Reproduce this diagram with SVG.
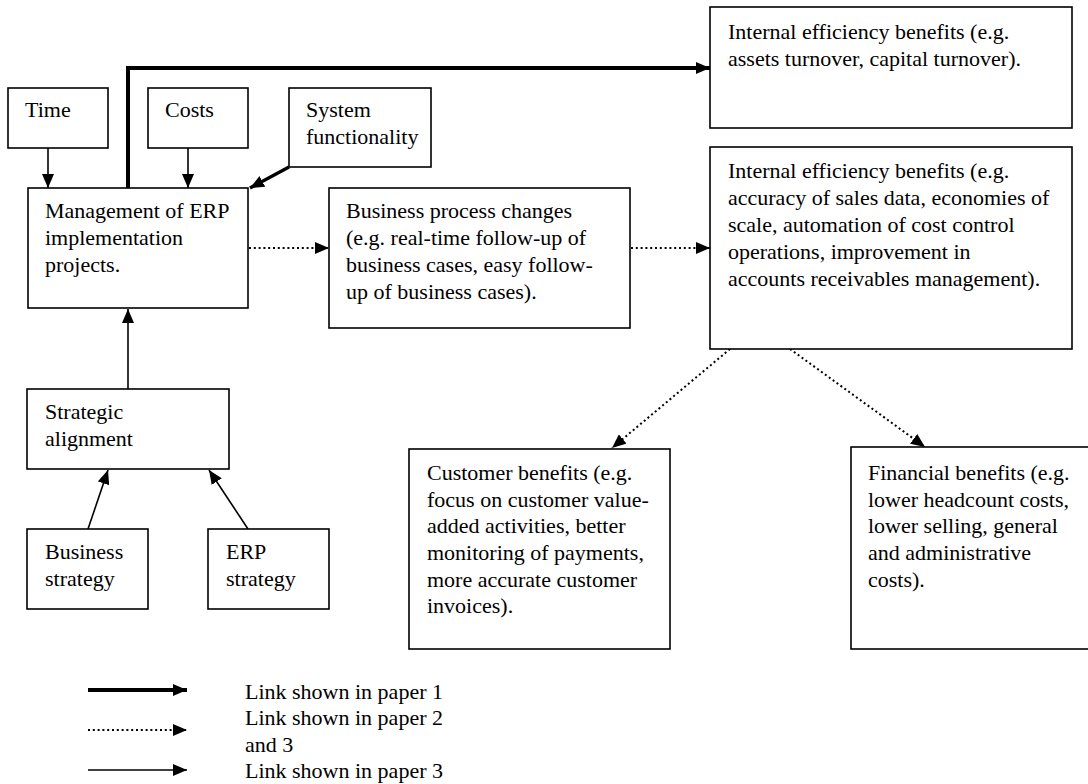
<svg xmlns="http://www.w3.org/2000/svg" width="1088" height="784" viewBox="0 0 1088 784">
  <style>
    .box { fill: #ffffff; stroke: #000000; stroke-width: 1.6; }
    .lbl { font-family: "Liberation Serif", "Times New Roman", serif; font-size: 22px; fill: #000000; }
    .thin { fill: none; stroke: #000000; stroke-width: 1.6; }
    .thick { fill: none; stroke: #000000; stroke-width: 4; }
    .dot { fill: none; stroke: #000000; stroke-width: 2; stroke-dasharray: 2 2.8; }
  </style>
  <defs>
    <marker id="head" markerUnits="userSpaceOnUse" markerWidth="14" markerHeight="12" refX="14" refY="6" orient="auto">
      <path d="M0,0 L14,6 L0,12 z" fill="#000000"/>
    </marker>
  </defs>
  <rect width="1088" height="784" fill="#ffffff"/>

  <!-- connectors -->
  <g id="connectors">
    <line class="thin" x1="48" y1="148" x2="48" y2="188" marker-end="url(#head)"/>
    <line class="thin" x1="188" y1="148" x2="188" y2="188" marker-end="url(#head)"/>
    <line class="thick" style="stroke-width:3.4" x1="289" y1="167" x2="250" y2="188" marker-end="url(#head)"/>
    <path class="thick" d="M128,188 V68 H710" marker-end="url(#head)"/>
    <line class="dot" x1="249" y1="248" x2="329" y2="248" marker-end="url(#head)"/>
    <line class="dot" x1="631" y1="248" x2="710" y2="248" marker-end="url(#head)"/>
    <line class="dot" x1="730" y1="349" x2="612" y2="448" marker-end="url(#head)"/>
    <line class="dot" x1="790" y1="349" x2="925" y2="447" marker-end="url(#head)"/>
    <line class="thin" x1="128" y1="389" x2="128" y2="309" marker-end="url(#head)"/>
    <line class="thin" x1="88" y1="529" x2="108" y2="470" marker-end="url(#head)"/>
    <line class="thin" x1="248" y1="529" x2="209" y2="470" marker-end="url(#head)"/>
  </g>

  <g id="time">
    <rect class="box" x="8" y="88" width="100" height="60"/>
    <text class="lbl" x="25" y="117">Time</text>
  </g>
  <g id="costs">
    <rect class="box" x="148" y="88" width="100" height="60"/>
    <text class="lbl" x="165" y="117">Costs</text>
  </g>
  <g id="system-functionality">
    <rect class="box" x="289" y="88" width="142" height="79"/>
    <text class="lbl" x="306" y="117">System</text>
    <text class="lbl" x="306" y="144">functionality</text>
  </g>
  <g id="management">
    <rect class="box" x="28" y="188" width="220" height="120"/>
    <text class="lbl" x="45" y="218">Management of ERP</text>
    <text class="lbl" x="45" y="245">implementation</text>
    <text class="lbl" x="45" y="272">projects.</text>
  </g>
  <g id="business-process">
    <rect class="box" x="329" y="188" width="301" height="140"/>
    <text class="lbl" x="346" y="218">Business process changes</text>
    <text class="lbl" x="346" y="245">(e.g. real-time follow-up of</text>
    <text class="lbl" x="346" y="272">business cases, easy follow-</text>
    <text class="lbl" x="346" y="299">up of business cases).</text>
  </g>
  <g id="internal-efficiency-1">
    <rect class="box" x="710" y="7" width="362" height="121"/>
    <text class="lbl" x="728" y="39">Internal efficiency benefits (e.g.</text>
    <text class="lbl" x="728" y="66">assets turnover, capital turnover).</text>
  </g>
  <g id="internal-efficiency-2">
    <rect class="box" x="710" y="147" width="362" height="202"/>
    <text class="lbl" x="728" y="178">Internal efficiency benefits (e.g.</text>
    <text class="lbl" x="728" y="205">accuracy of sales data, economies of</text>
    <text class="lbl" x="728" y="232">scale, automation of cost control</text>
    <text class="lbl" x="728" y="259">operations, improvement in</text>
    <text class="lbl" x="728" y="286">accounts receivables management).</text>
  </g>
  <g id="strategic-alignment">
    <rect class="box" x="27" y="389" width="202" height="80"/>
    <text class="lbl" x="45" y="419">Strategic</text>
    <text class="lbl" x="45" y="446">alignment</text>
  </g>
  <g id="business-strategy">
    <rect class="box" x="27" y="529" width="121" height="80"/>
    <text class="lbl" x="45" y="559">Business</text>
    <text class="lbl" x="45" y="586">strategy</text>
  </g>
  <g id="erp-strategy">
    <rect class="box" x="208" y="529" width="121" height="80"/>
    <text class="lbl" x="226" y="559">ERP</text>
    <text class="lbl" x="226" y="586">strategy</text>
  </g>
  <g id="customer-benefits">
    <rect class="box" x="409" y="449" width="261" height="200"/>
    <text class="lbl" x="427" y="480">Customer benefits (e.g.</text>
    <text class="lbl" x="427" y="507">focus on customer value-</text>
    <text class="lbl" x="427" y="533">added activities, better</text>
    <text class="lbl" x="427" y="560">monitoring of payments,</text>
    <text class="lbl" x="427" y="587">more accurate customer</text>
    <text class="lbl" x="427" y="613">invoices).</text>
  </g>
  <g id="financial-benefits">
    <rect class="box" x="851" y="447" width="240" height="202"/>
    <text class="lbl" x="868" y="480">Financial benefits (e.g.</text>
    <text class="lbl" x="868" y="507">lower headcount costs,</text>
    <text class="lbl" x="868" y="533">lower selling, general</text>
    <text class="lbl" x="868" y="560">and administrative</text>
    <text class="lbl" x="868" y="587">costs).</text>
  </g>

  <!-- key -->
  <g id="legend">
    <line class="thick" x1="88" y1="690" x2="187" y2="690" marker-end="url(#head)"/>
    <line class="dot" x1="88" y1="730" x2="187" y2="730" marker-end="url(#head)"/>
    <line class="thin" x1="88" y1="770" x2="187" y2="770" marker-end="url(#head)"/>
    <text class="lbl" x="245" y="699">Link shown in paper 1</text>
    <text class="lbl" x="245" y="725">Link shown in paper 2</text>
    <text class="lbl" x="245" y="752">and 3</text>
    <text class="lbl" x="245" y="778">Link shown in paper 3</text>
  </g>
</svg>
